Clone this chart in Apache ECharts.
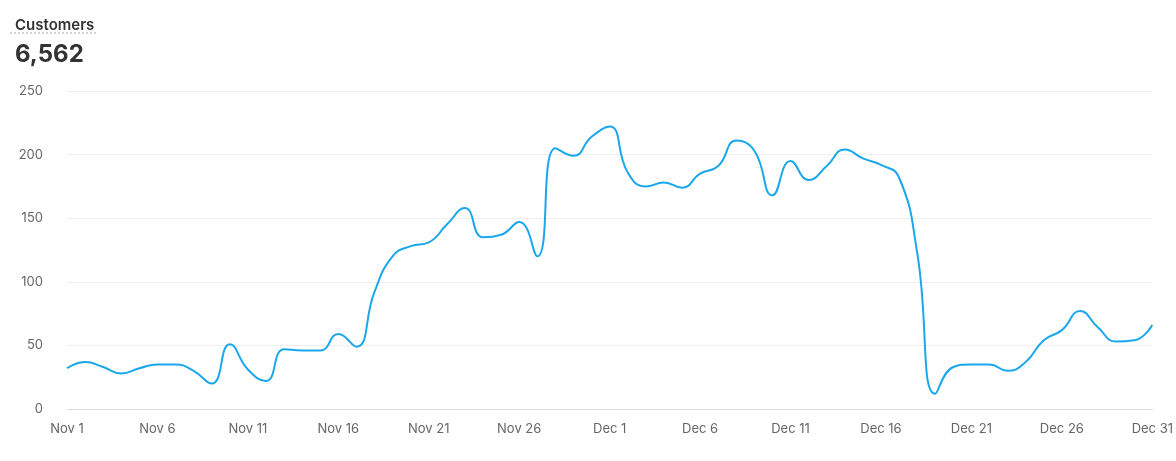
<!DOCTYPE html><html><head><meta charset="utf-8">
<script src="https://cdn.jsdelivr.net/npm/echarts@6/dist/echarts.min.js"></script>
<style>body{margin:0;background:#fff}#c{width:1176px;height:461px}</style></head><body><div id="c"></div>
<script>
const categories=[];
for(let d=1;d<=30;d++)categories.push('Nov '+d);
for(let d=1;d<=31;d++)categories.push('Dec '+d);
const customers=[32,37,33,28,32,35,35,30,20,51,31,22,47,46,46,59,49,92,120,128,131,145,158,135,137,147,120,205,199,214,222,186,175,178,174,185,191,211,203,168,195,180,191,204,197,192,182,123,12,33,35,35,30,37,54,62,77,64,53,54,66];
const yTicks=[0,50,100,150,200,250];
const chart=echarts.init(document.getElementById('c'));
chart.setOption({
 animation:false,
 title:[{text:'Customers',left:10,top:13,textStyle:{fontFamily:'Inter',fontSize:15,fontWeight:600,color:'#333'}},
        {text:'6,562',left:10,top:38,textStyle:{fontFamily:'Inter',fontSize:24,fontWeight:700,color:'#333'}}],
 graphic:[{type:'line',shape:{x1:10,y1:33,x2:96,y2:33},style:{stroke:'#aaa',lineWidth:1,lineDash:[2,2]}}],
 grid:{left:67,right:8,top:91,bottom:52},
 xAxis:{type:'category',data:categories,boundaryGap:false,
  axisLine:{lineStyle:{color:'#ddd'}},axisTick:{show:false},
  axisLabel:{interval:4,color:'#666',fontFamily:'Inter',fontSize:13,margin:14}},
 yAxis:{type:'value',min:yTicks[0],max:yTicks[yTicks.length-1],interval:50,
  axisLabel:{color:'#666',fontFamily:'Inter',fontSize:13,margin:24},
  splitLine:{lineStyle:{color:'#eee'}}},
 series:[{type:'line',data:customers,smooth:0.5,symbol:'none',lineStyle:{color:'#1aa7ec',width:2}}]
});
</script></body></html>
